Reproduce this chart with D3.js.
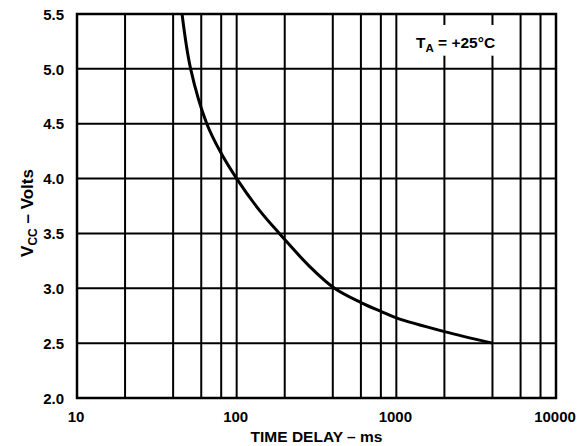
<!DOCTYPE html>
<html>
<head>
<meta charset="utf-8">
<script src="https://cdn.jsdelivr.net/npm/d3@7"></script>
<style>
    body { margin: 0; background: #fff; }
    text { font-family: "Liberation Sans", Arial, sans-serif; font-weight: bold; fill: #000; }
</style>
</head>
<body>
<div id="container"></div>
<script>
// Chart data
const delayMs = [45.5, 51.5, 65, 80, 100, 139, 185, 286, 410, 600, 800, 1000, 2000, 4000];
const vccVolts = [5.5, 5.0, 4.5, 4.23, 4.0, 3.71, 3.5, 3.2, 3.0, 2.87, 2.79, 2.73, 2.605, 2.5];

const xTicks = [10, 100, 1000, 10000];
const xGrid = [20, 40, 60, 80, 100, 200, 400, 600, 800, 1000, 2000, 4000, 6000, 8000];
const yTicks = [2.0, 2.5, 3.0, 3.5, 4.0, 4.5, 5.0, 5.5];

const width = 587;
const height = 446;
const margin = { top: 14, right: 31, bottom: 48, left: 77 };

const svg = d3.select("#container").append("svg")
    .attr("width", width)
    .attr("height", height);

const x = d3.scaleLog()
    .domain([10, 10000])
    .range([margin.left, width - margin.right]);

const y = d3.scaleLinear()
    .domain([2.0, 5.5])
    .range([height - margin.bottom, margin.top]);

// grid lines
svg.append("g")
    .attr("stroke", "#000")
    .attr("stroke-width", 2)
    .selectAll("line")
    .data(xGrid)
    .join("line")
    .attr("x1", d => x(d))
    .attr("x2", d => x(d))
    .attr("y1", y(2.0))
    .attr("y2", y(5.5));

svg.append("g")
    .attr("stroke", "#000")
    .attr("stroke-width", 2)
    .selectAll("line")
    .data(yTicks.slice(1, -1))
    .join("line")
    .attr("x1", x(10))
    .attr("x2", x(10000))
    .attr("y1", d => y(d))
    .attr("y2", d => y(d));

// white box behind the temperature note
svg.append("rect")
    .attr("x", x(1400))
    .attr("y", y(5.4))
    .attr("width", x(5000) - x(1400))
    .attr("height", y(5.12) - y(5.4))
    .attr("fill", "#fff");

svg.append("text")
    .attr("x", x(2350))
    .attr("y", y(5.19))
    .attr("text-anchor", "middle")
    .style("font-size", "15.5px")
    .call(t => {
        t.append("tspan").text("T");
        t.append("tspan").attr("dy", 4).style("font-size", "11.5px").text("A");
        t.append("tspan").attr("dy", -4).text(" = +25\u00B0C");
    });

// frame
svg.append("rect")
    .attr("x", x(10))
    .attr("y", y(5.5))
    .attr("width", x(10000) - x(10))
    .attr("height", y(2.0) - y(5.5))
    .attr("fill", "none")
    .attr("stroke", "#000")
    .attr("stroke-width", 2.5);

// curve
const line = d3.line()
    .x((d, i) => x(delayMs[i]))
    .y(d => y(d))
    .curve(d3.curveCatmullRom.alpha(0.5));

svg.append("path")
    .datum(vccVolts)
    .attr("d", line)
    .attr("fill", "none")
    .attr("stroke", "#000")
    .attr("stroke-width", 3);

// tick labels
svg.append("g")
    .selectAll("text")
    .data(yTicks)
    .join("text")
    .attr("x", x(10) - 13)
    .attr("y", d => y(d))
    .attr("dy", "0.38em")
    .attr("text-anchor", "end")
    .style("font-size", "15px")
    .text(d => d.toFixed(1));

svg.append("g")
    .selectAll("text")
    .data(xTicks)
    .join("text")
    .attr("x", d => x(d) - 1)
    .attr("y", 422)
    .attr("text-anchor", "middle")
    .style("font-size", "15px")
    .text(d => d);

// axis titles
svg.append("text")
    .attr("x", (x(10) + x(10000)) / 2)
    .attr("y", 441.5)
    .attr("text-anchor", "middle")
    .style("font-size", "15.5px")
    .text("TIME DELAY \u2013 ms");

svg.append("text")
    .attr("transform", "translate(33,213) rotate(-90)")
    .attr("text-anchor", "middle")
    .style("font-size", "17px")
    .call(t => {
        t.append("tspan").text("V");
        t.append("tspan").attr("dy", 4).style("font-size", "12px").text("CC");
        t.append("tspan").attr("dy", -4).text(" \u2013 Volts");
    });
</script>
</body>
</html>
